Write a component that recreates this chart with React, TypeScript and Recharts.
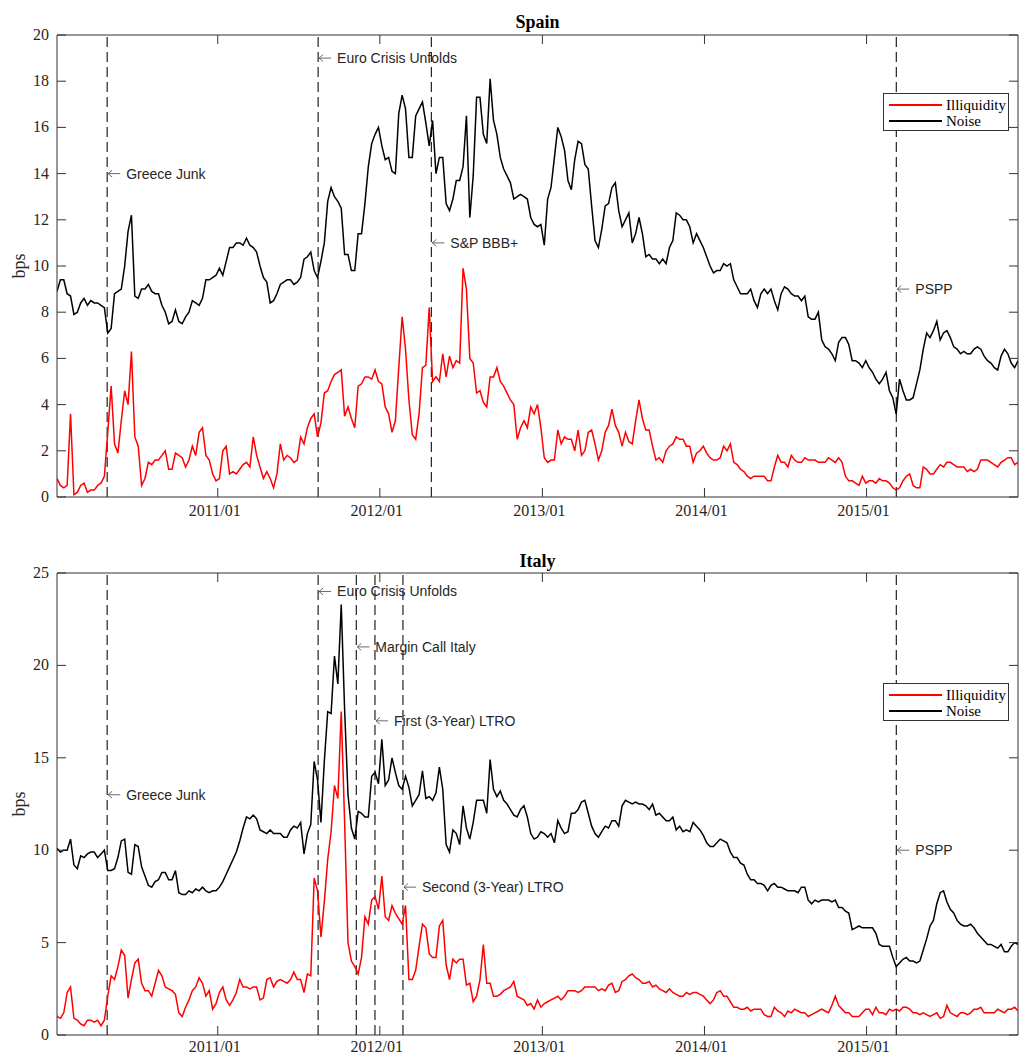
import { LineChart, Line, XAxis, YAxis, ReferenceLine, ReferenceDot, Legend } from 'recharts';

const SERIF = '"Liberation Serif", "Times New Roman", serif';
const SANS = '"Liberation Sans", Arial, sans-serif';
const AXIS = '#333';

const START = Date.UTC(2010, 0, 4);
const END = Date.UTC(2015, 11, 8);
const YEAR_TICKS = [2011, 2012, 2013, 2014, 2015].map((y) => Date.UTC(y, 0, 1));

// readings every half month (bps), plus the readings halfway between them
const SPAIN_NOISE = [
  8.9, 9.4, 8.7, 8.0, 8.6, 8.5, 8.4, 8.2, 7.3, 8.9, 10.0, 12.2, 8.6, 9.0, 8.9, 8.8, 8.0, 7.6, 7.6, 7.8,
  8.5, 8.3, 9.4, 9.5, 9.9, 10.2, 10.8, 11.0, 11.2, 10.8, 10.0, 9.3, 8.5, 9.2, 9.4, 9.2, 9.5, 10.4, 9.8, 10.2,
  12.8, 13.0, 12.5, 10.5, 9.8, 11.4, 14.3, 15.7, 15.2, 14.7, 14.0, 17.4, 14.7, 16.5, 17.1, 15.2, 14.0, 14.7, 12.4, 13.7,
  14.3, 12.1, 17.3, 15.7, 18.1, 15.7, 14.2, 13.6, 13.0, 13.0, 12.1, 11.7, 10.9, 13.4, 16.0, 15.0, 13.3, 15.4, 14.4, 12.6,
  10.8, 12.6, 13.4, 12.4, 12.0, 11.0, 12.1, 10.4, 10.3, 10.1, 10.1, 11.1, 12.2, 12.0, 11.0, 11.1, 10.4, 9.7, 9.8, 10.0,
  9.4, 8.8, 8.8, 8.5, 8.8, 8.8, 8.5, 8.8, 9.0, 8.7, 8.5, 7.8, 7.7, 6.8, 6.4, 5.9, 6.9, 6.6, 5.9, 5.6,
  5.6, 5.1, 5.1, 4.6, 3.6, 4.6, 4.2, 4.9, 6.4, 6.9, 7.6, 7.1, 6.9, 6.4, 6.3, 6.2, 6.5, 6.1, 5.8, 5.5,
  6.4, 5.8, 5.9,
];
const SPAIN_NOISE_MID = [
  9.4, 8.8, 7.9, 8.4, 8.3, 8.4, 8.3, 7.1, 8.8, 9.0, 11.5, 8.7, 9.0, 9.2, 8.8, 8.3, 7.5, 8.1, 7.5, 8.0,
  8.4, 8.6, 9.4, 9.6, 9.6, 10.8, 11.0, 10.9, 10.9, 10.6, 9.5, 8.4, 8.8, 9.3, 9.4, 9.3, 10.3, 10.6, 9.5, 11.0,
  13.4, 12.8, 10.5, 9.8, 11.4, 12.7, 15.3, 16.0, 14.6, 14.1, 16.6, 16.8, 14.7, 16.8, 16.2, 16.3, 14.7, 12.7, 12.9, 13.7,
  16.5, 13.9, 17.3, 15.3, 16.3, 14.7, 13.9, 12.9, 13.1, 12.9, 11.8, 11.8, 12.9, 14.7, 15.6, 13.7, 14.6, 15.3, 14.2, 11.1,
  11.6, 12.7, 13.6, 11.7, 12.3, 11.4, 11.4, 10.5, 10.3, 10.3, 10.8, 12.3, 12.0, 11.7, 11.4, 10.8, 10.0, 9.8, 10.1, 10.1,
  9.1, 8.8, 9.0, 8.2, 9.0, 9.0, 8.1, 9.1, 8.8, 8.7, 8.7, 7.7, 8.0, 6.5, 6.2, 6.7, 6.9, 5.9, 5.8, 5.9,
  5.4, 4.9, 5.4, 4.3, 5.1, 4.2, 4.3, 5.5, 7.1, 7.2, 6.8, 7.2, 6.5, 6.2, 6.2, 6.4, 6.4, 5.9, 5.6, 6.1,
  6.2, 5.6,
];
const SPAIN_ILLIQ = [
  0.8, 0.4, 3.6, 0.2, 0.6, 0.3, 0.5, 0.9, 4.8, 1.9, 4.6, 6.3, 2.2, 0.8, 1.4, 1.6, 2.0, 1.2, 1.8, 1.3,
  2.2, 2.8, 1.8, 1.0, 0.8, 2.2, 1.1, 1.2, 1.5, 2.6, 1.3, 1.1, 0.4, 2.3, 1.8, 1.5, 2.6, 3.0, 3.6, 3.2,
  4.6, 5.3, 5.5, 3.9, 3.0, 4.9, 5.2, 5.5, 4.9, 3.6, 3.3, 7.8, 4.2, 2.5, 5.6, 8.2, 5.2, 6.2, 6.1, 5.9,
  9.9, 6.0, 4.5, 4.1, 5.2, 5.6, 4.8, 4.2, 2.5, 3.3, 3.9, 4.0, 1.7, 1.6, 2.9, 2.6, 2.5, 2.9, 2.0, 2.9,
  1.6, 2.8, 3.8, 2.8, 2.8, 2.3, 4.2, 2.9, 2.2, 1.7, 2.0, 2.3, 2.5, 2.2, 1.5, 2.0, 1.9, 1.6, 1.7, 2.0,
  1.5, 1.2, 0.9, 0.9, 0.9, 0.7, 1.3, 1.5, 1.3, 1.6, 1.5, 1.6, 1.6, 1.5, 1.7, 1.5, 1.5, 0.7, 0.6, 0.9,
  0.7, 0.6, 0.7, 0.6, 0.3, 0.7, 1.0, 0.4, 1.3, 1.0, 1.2, 1.3, 1.5, 1.3, 1.3, 1.2, 1.2, 1.6, 1.5, 1.3,
  1.6, 1.7, 1.5,
];
const SPAIN_ILLIQ_MID = [
  0.5, 0.5, 0.1, 0.5, 0.2, 0.3, 0.6, 2.8, 2.3, 3.3, 4.0, 2.6, 0.5, 1.5, 1.6, 1.8, 1.2, 1.9, 1.7, 1.6,
  1.8, 3.0, 1.6, 0.7, 2.0, 1.0, 1.0, 1.4, 1.3, 1.8, 0.8, 0.8, 1.0, 1.6, 1.7, 1.6, 2.3, 3.4, 2.6, 4.5,
  5.0, 5.4, 3.5, 3.4, 4.8, 5.2, 5.1, 5.0, 3.9, 2.8, 5.6, 6.4, 2.7, 3.6, 5.7, 5.0, 5.0, 5.2, 5.6, 5.8,
  9.0, 5.8, 4.6, 3.9, 5.2, 5.0, 4.5, 4.0, 3.0, 3.0, 3.6, 3.0, 1.5, 1.6, 2.3, 2.5, 2.0, 1.8, 2.8, 2.3,
  2.0, 3.1, 3.1, 2.2, 2.4, 3.3, 3.4, 2.9, 1.6, 1.5, 2.2, 2.6, 2.5, 2.2, 1.9, 2.2, 1.7, 1.6, 2.2, 2.3,
  1.4, 1.1, 0.8, 0.9, 0.9, 0.7, 1.8, 1.5, 1.8, 1.5, 1.7, 1.6, 1.5, 1.5, 1.6, 1.7, 0.9, 0.7, 0.5, 0.6,
  0.7, 0.8, 0.7, 0.4, 0.4, 0.9, 0.5, 0.4, 1.2, 1.0, 1.4, 1.5, 1.4, 1.3, 1.1, 1.1, 1.6, 1.6, 1.4, 1.5,
  1.7, 1.4,
];
const ITALY_NOISE = [
  10.1, 10.0, 10.6, 9.0, 9.6, 9.9, 9.6, 10.0, 8.9, 9.6, 10.6, 8.7, 10.2, 8.6, 8.0, 8.4, 8.8, 8.4, 7.7, 7.6,
  7.7, 7.8, 7.8, 7.8, 8.0, 8.7, 9.5, 10.5, 11.8, 11.9, 11.1, 10.9, 10.9, 10.9, 10.7, 11.3, 11.5, 10.9, 14.8, 11.5,
  17.5, 20.5, 23.3, 13.0, 10.6, 12.0, 11.8, 14.2, 16.0, 13.8, 14.2, 13.3, 13.4, 12.7, 14.3, 12.9, 13.1, 13.3, 9.9, 10.9,
  12.4, 10.6, 12.7, 12.7, 14.9, 12.9, 12.7, 12.2, 11.8, 12.4, 10.9, 10.7, 10.9, 10.9, 11.6, 10.9, 12.0, 12.2, 12.7, 11.3,
  10.7, 11.3, 11.6, 11.3, 12.7, 12.5, 12.5, 12.4, 12.5, 12.0, 11.6, 11.8, 11.3, 11.1, 11.5, 11.1, 10.4, 10.2, 10.6, 10.4,
  9.6, 9.3, 8.7, 8.4, 8.2, 7.8, 8.2, 8.0, 7.8, 7.8, 8.0, 7.3, 7.3, 7.3, 7.3, 7.3, 6.9, 6.6, 5.8, 5.8,
  5.8, 5.5, 4.8, 4.8, 3.7, 4.1, 4.0, 3.9, 4.6, 5.9, 7.1, 7.8, 6.8, 6.2, 5.9, 6.0, 5.5, 5.1, 4.9, 4.7,
  4.5, 4.8, 4.9,
];
const ITALY_NOISE_MID = [
  9.9, 10.0, 9.2, 9.7, 9.8, 9.9, 9.8, 8.9, 9.0, 10.5, 8.8, 10.3, 9.1, 8.1, 8.3, 8.8, 8.4, 8.9, 7.6, 7.8,
  7.9, 8.0, 7.7, 7.8, 8.3, 9.1, 9.9, 11.2, 11.7, 11.7, 11.0, 11.1, 10.9, 10.7, 11.1, 11.2, 9.8, 11.4, 13.8, 14.8,
  17.4, 19.0, 17.6, 11.2, 12.1, 11.8, 14.0, 13.6, 13.5, 15.0, 13.5, 14.0, 12.4, 13.0, 12.8, 12.7, 14.5, 10.3, 11.1, 10.3,
  11.2, 11.5, 12.7, 12.0, 13.3, 13.2, 12.5, 11.9, 12.2, 11.8, 10.6, 11.0, 10.7, 10.4, 11.2, 11.0, 12.0, 12.6, 12.0, 10.9,
  11.0, 11.2, 11.6, 12.4, 12.6, 12.6, 12.5, 12.2, 11.9, 11.8, 11.6, 11.1, 11.0, 11.0, 11.3, 10.8, 10.2, 10.4, 10.5, 9.9,
  9.6, 9.2, 8.4, 8.2, 8.1, 8.1, 8.0, 7.9, 7.8, 7.7, 8.0, 7.1, 7.2, 7.3, 7.2, 6.9, 6.7, 5.7, 5.9, 5.8,
  5.8, 4.9, 4.8, 4.2, 3.9, 4.2, 4.0, 4.0, 5.2, 6.2, 7.7, 7.2, 6.6, 6.0, 5.9, 5.8, 5.3, 4.9, 4.8, 4.9,
  4.5, 5.0,
];
const ITALY_ILLIQ = [
  1.0, 1.2, 2.6, 0.8, 0.5, 0.8, 0.8, 0.8, 3.2, 3.7, 4.3, 3.0, 4.1, 2.4, 2.1, 3.5, 2.6, 2.4, 1.2, 1.5,
  2.4, 3.1, 2.1, 1.4, 2.3, 1.9, 1.9, 3.0, 2.6, 2.6, 1.9, 3.0, 2.6, 3.0, 2.8, 3.4, 3.0, 3.3, 8.5, 5.3,
  9.5, 13.5, 17.5, 5.0, 3.7, 4.2, 6.0, 7.5, 8.6, 6.2, 6.6, 6.0, 3.0, 3.5, 6.0, 4.4, 4.2, 6.2, 3.0, 3.9,
  4.1, 2.8, 2.1, 4.9, 2.8, 2.1, 2.4, 2.6, 2.1, 1.9, 1.7, 1.9, 1.7, 1.9, 2.1, 2.1, 2.4, 2.3, 2.6, 2.6,
  2.4, 2.4, 2.8, 2.4, 3.0, 3.3, 3.0, 2.8, 2.6, 2.5, 2.3, 2.3, 2.1, 2.3, 2.3, 2.2, 1.9, 1.9, 2.4, 2.1,
  1.5, 1.4, 1.5, 1.4, 1.4, 1.0, 1.5, 1.2, 1.3, 1.4, 1.2, 1.0, 1.2, 1.4, 1.2, 2.1, 1.4, 1.2, 1.0, 1.2,
  1.4, 1.5, 1.2, 1.4, 1.4, 1.5, 1.4, 1.2, 1.2, 1.0, 1.2, 1.0, 1.2, 1.0, 1.2, 1.2, 1.4, 1.2, 1.2, 1.4,
  1.2, 1.4, 1.3,
];
const ITALY_ILLIQ_MID = [
  0.9, 2.3, 0.9, 0.6, 0.8, 0.7, 0.5, 2.1, 3.0, 4.6, 2.0, 3.9, 2.8, 2.4, 2.8, 3.2, 2.5, 2.2, 1.0, 1.9,
  2.6, 2.8, 2.4, 1.7, 2.6, 1.6, 2.3, 2.6, 2.5, 2.6, 2.0, 3.1, 2.9, 2.9, 3.0, 3.0, 2.3, 3.2, 7.8, 7.2,
  11.0, 12.8, 11.5, 4.0, 3.3, 6.4, 7.3, 6.8, 6.4, 7.0, 6.3, 7.0, 3.0, 4.8, 5.8, 4.2, 5.9, 3.8, 4.1, 4.1,
  2.7, 1.8, 3.0, 2.8, 2.1, 2.2, 2.5, 2.9, 2.0, 1.6, 1.4, 1.5, 1.8, 2.0, 1.9, 2.4, 2.4, 2.4, 2.6, 2.6,
  2.5, 2.7, 2.3, 2.9, 3.2, 3.1, 2.8, 2.9, 2.7, 2.4, 2.5, 2.2, 2.1, 2.2, 2.3, 2.1, 1.7, 2.3, 2.1, 1.8,
  1.5, 1.4, 1.3, 1.4, 1.1, 1.0, 1.3, 1.0, 1.2, 1.3, 1.2, 1.1, 1.3, 1.3, 1.6, 1.6, 1.2, 1.0, 1.0, 1.4,
  1.1, 1.2, 1.1, 1.3, 1.3, 1.5, 1.2, 1.1, 1.1, 1.1, 0.9, 1.6, 1.1, 1.2, 1.1, 1.4, 1.5, 1.2, 1.2, 1.3,
  1.4, 1.5,
];

// put the halfway readings between the half-month ones
const weave = (grid: number[], mid: number[]) => grid.flatMap((v, i) => (i < mid.length ? [v, mid[i]] : [v]));

const SPAIN_N = weave(SPAIN_NOISE, SPAIN_NOISE_MID);
const SPAIN_I = weave(SPAIN_ILLIQ, SPAIN_ILLIQ_MID);
const ITALY_N = weave(ITALY_NOISE, ITALY_NOISE_MID);
const ITALY_I = weave(ITALY_ILLIQ, ITALY_ILLIQ_MID);

const STEP = (END - START) / (SPAIN_N.length - 1);
const DATES = SPAIN_N.map((_, i) => START + i * STEP);

const SPAIN_TICKS = [0, 2, 4, 6, 8, 10, 12, 14, 16, 18, 20];
const ITALY_TICKS = [0, 5, 10, 15, 20, 25];

const SPAIN_EVENTS = [
  { date: '2010-04-27', label: 'Greece Junk', at: 14 },
  { date: '2011-08-15', label: 'Euro Crisis Unfolds', at: 19 },
  { date: '2012-04-26', label: 'S&P BBB+', at: 11 },
  { date: '2015-03-09', label: 'PSPP', at: 9 },
];
const ITALY_EVENTS = [
  { date: '2010-04-27', label: 'Greece Junk', at: 13 },
  { date: '2011-08-15', label: 'Euro Crisis Unfolds', at: 24 },
  { date: '2011-11-09', label: 'Margin Call Italy', at: 21 },
  { date: '2011-12-21', label: 'First (3-Year) LTRO', at: 17 },
  { date: '2012-02-22', label: 'Second (3-Year) LTRO', at: 8 },
  { date: '2015-03-09', label: 'PSPP', at: 10 },
];

const W = 1021;
const H = 527;
const LEFT = 57;
const RIGHT = 3;

const fmtYear = (t: number) => `${new Date(t).getUTCFullYear()}/01`;

const XTick = ({ x, y, payload, top, dy }: any) => (
  <g>
    <line x1={x} x2={x} y1={y} y2={y - 9} stroke={AXIS} />
    <line x1={x} x2={x} y1={top} y2={top + 9} stroke={AXIS} />
    <text x={x - 3} y={y + dy} textAnchor="middle" fontFamily={SERIF} fontSize={16} fill="#262626">
      {fmtYear(payload.value)}
    </text>
  </g>
);

const YTick = ({ x, y, payload, right }: any) => (
  <g>
    <line x1={x} x2={x + 9} y1={y} y2={y} stroke={AXIS} />
    <line x1={right} x2={right - 9} y1={y} y2={y} stroke={AXIS} />
    <text x={x - 8} y={y} dy={5} textAnchor="end" fontFamily={SERIF} fontSize={16} fill="#262626">
      {payload.value}
    </text>
  </g>
);

const YLabel = ({ viewBox }: any) => (
  <text
    transform={`translate(${viewBox.x + 19}, ${viewBox.y + viewBox.height / 2}) rotate(-90)`}
    textAnchor="middle"
    dominantBaseline="central"
    fontFamily={SERIF}
    fontSize={18}
    fill="#262626"
  >
    bps
  </text>
);

// "← label" next to an event line
const EventLabel = ({ cx, cy, label }: any) => (
  <g>
    <line x1={cx + 1} x2={cx + 13} y1={cy} y2={cy} stroke="#444" strokeWidth={0.8} />
    <polyline points={`${cx + 5},${cy - 3.5} ${cx + 1},${cy} ${cx + 5},${cy + 3.5}`} fill="none" stroke="#444" strokeWidth={0.8} />
    <text x={cx + 19} y={cy} dominantBaseline="central" fontFamily={SANS} fontSize={14} fill="#262626">
      {label}
    </text>
  </g>
);

const LegendBox = () => (
  <div
    style={{
      width: 124,
      height: 36,
      border: '1px solid #333',
      background: '#fff',
      fontFamily: SERIF,
      fontSize: 15,
      color: '#000',
    }}
  >
    {[
      { name: 'Illiquidity', color: '#ff0000' },
      { name: 'Noise', color: '#000' },
    ].map((d) => (
      <div key={d.name} style={{ display: 'flex', alignItems: 'center', height: 16, marginTop: d.name === 'Noise' ? 0 : 3 }}>
        <div style={{ width: 53, height: 2, background: d.color, marginLeft: 5, marginRight: 4 }} />
        <span style={{ lineHeight: '16px' }}>{d.name}</span>
      </div>
    ))}
  </div>
);

interface PanelProps {
  title: string;
  noise: number[];
  illiq: number[];
  yMax: number;
  yTicks: number[];
  events: { date: string; label: string; at: number }[];
  plotTop: number;
  plotBottom: number;
  legendTop: number;
  titleTop: number;
  tickDy: number;
}

function Panel({ title, noise, illiq, yMax, yTicks, events, plotTop, plotBottom, legendTop, titleTop, tickDy }: PanelProps) {
  const data = DATES.map((t, i) => ({ t, noise: noise[i], illiq: illiq[i] }));
  return (
    <div style={{ position: 'relative', width: W, height: H }}>
      <div
        style={{
          position: 'absolute',
          left: LEFT,
          width: W - LEFT - RIGHT,
          top: titleTop,
          textAlign: 'center',
          fontFamily: SERIF,
          fontWeight: 'bold',
          fontSize: 18,
          lineHeight: '18px',
          color: '#000',
          zIndex: 2,
        }}
      >
        {title}
      </div>
      <LineChart width={W} height={H} data={data} margin={{ top: plotTop, right: RIGHT, bottom: 0, left: 0 }}>
        <XAxis
          dataKey="t"
          type="number"
          domain={[START, END]}
          ticks={YEAR_TICKS}
          interval={0}
          height={H - plotBottom}
          tickSize={0}
          tickMargin={0}
          tickLine={false}
          axisLine={{ stroke: AXIS }}
          tick={<XTick top={plotTop} dy={tickDy} />}
          allowDataOverflow
        />
        <YAxis
          type="number"
          domain={[0, yMax]}
          ticks={yTicks}
          interval={0}
          width={LEFT}
          tickSize={0}
          tickMargin={0}
          tickLine={false}
          axisLine={{ stroke: AXIS }}
          tick={<YTick right={W - RIGHT} />}
          label={<YLabel />}
          allowDataOverflow
        />
        <ReferenceLine y={yMax} stroke={AXIS} />
        <ReferenceLine x={END} stroke={AXIS} />
        {events.map((e) => (
          <ReferenceLine
            key={e.label}
            x={Date.parse(e.date)}
            stroke="#222"
            strokeWidth={1.2}
            strokeDasharray="10 5"
          />
        ))}
        {events.map((e) => (
          <ReferenceDot
            key={'l' + e.label}
            x={Date.parse(e.date)}
            y={e.at}
            r={1}
            shape={(p: any) => <EventLabel cx={p.cx} cy={p.cy} label={e.label} />}
          />
        ))}
        <Line
          dataKey="illiq"
          name="Illiquidity"
          type="linear"
          stroke="#ff0000"
          strokeWidth={1.5}
          dot={false}
          isAnimationActive={false}
        />
        <Line
          dataKey="noise"
          name="Noise"
          type="linear"
          stroke="#000"
          strokeWidth={1.5}
          dot={false}
          isAnimationActive={false}
        />
        <Legend
          layout="horizontal"
          verticalAlign="middle"
          align="center"
          wrapperStyle={{ top: legendTop, left: 883, width: 126, height: 38 }}
          content={<LegendBox />}
        />
      </LineChart>
    </div>
  );
}

export default function App() {
  return (
    <div style={{ position: 'absolute', left: 0, top: 0, width: W, height: 1054, background: '#fff' }}>
      <Panel
        title="Spain"
        noise={SPAIN_N}
        illiq={SPAIN_I}
        yMax={20}
        yTicks={SPAIN_TICKS}
        events={SPAIN_EVENTS}
        plotTop={35}
        plotBottom={497}
        legendTop={93}
        titleTop={13}
        tickDy={19}
      />
      <Panel
        title="Italy"
        noise={ITALY_N}
        illiq={ITALY_I}
        yMax={25}
        yTicks={ITALY_TICKS}
        events={ITALY_EVENTS}
        plotTop={46}
        plotBottom={508}
        legendTop={156}
        titleTop={25}
        tickDy={17}
      />
    </div>
  );
}
